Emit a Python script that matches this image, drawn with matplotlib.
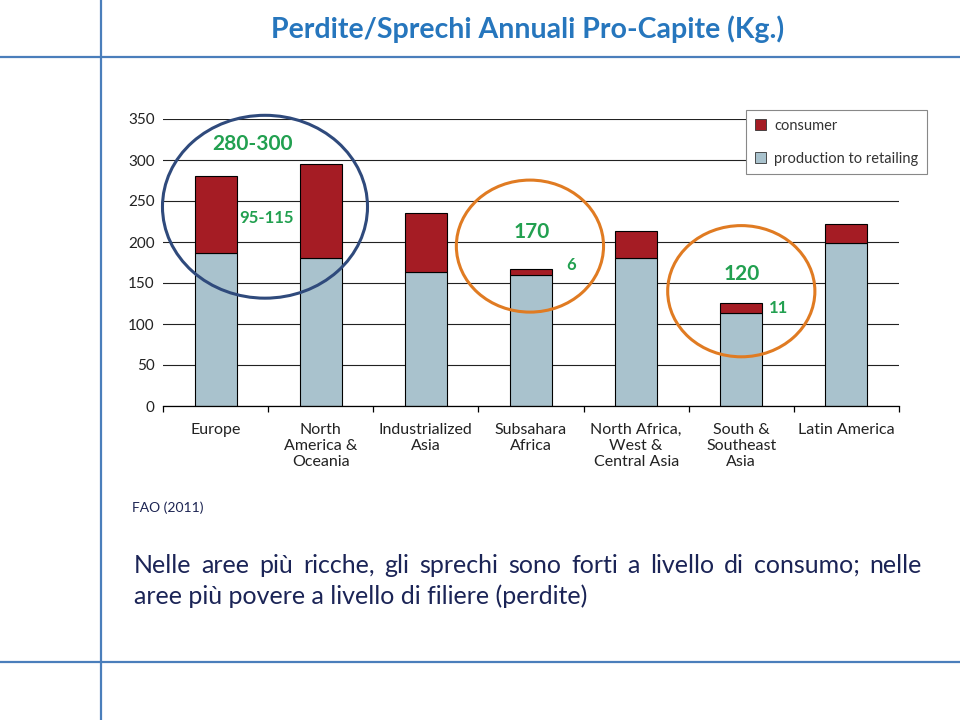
import matplotlib
matplotlib.use('Agg')
import matplotlib.pyplot as plt
from matplotlib.patches import Ellipse, Patch
from matplotlib.lines import Line2D
import numpy as np

plt.rcParams['font.family'] = ['Lato', 'DejaVu Sans']

# data (kg per capita per year)
categories = ['Europe', 'North\nAmerica &\nOceania', 'Industrialized\nAsia', 'Subsahara\nAfrica',
              'North Africa,\nWest &\nCentral Asia', 'South &\nSoutheast\nAsia', 'Latin America']
production = [186, 180, 163, 160, 181, 114, 199]
consumer = [95, 115, 72, 7, 33, 12, 23]
yticks = [0, 50, 100, 150, 200, 250, 300, 350]

# green callouts: (text, x, y, size)
callouts = [('280-300', 0.35, 319, 15), ('95-115', 0.48, 229, 12),
            ('170', 3.01, 212, 15), ('6', 3.38, 172, 12),
            ('120', 5.0, 161, 15), ('11', 5.35, 120, 12)]
# circles: (x, y, width, height, color)
circles = [(0.47, 243, 1.95, 223, '#2f4a7c'),
           (2.99, 195, 1.40, 161, '#e07b22'),
           (5.0, 140, 1.40, 160, '#e07b22')]

c_cons = '#a51c24'
c_prod = '#a9c2cd'

fig = plt.figure(figsize=(9.6, 7.2), dpi=100)
fig.patch.set_facecolor('white')

# slide frame lines
line_col = '#4a7ebb'
fig.add_artist(Line2D([101 / 960, 101 / 960], [0, 1], color=line_col, lw=1.6))
fig.add_artist(Line2D([0, 1], [1 - 57 / 720, 1 - 57 / 720], color=line_col, lw=1.6))
fig.add_artist(Line2D([0, 1], [1 - 662 / 720, 1 - 662 / 720], color=line_col, lw=1.6))

fig.text(528 / 960, 1 - 38 / 720, 'Perdite/Sprechi Annuali Pro-Capite (Kg.)', ha='center',
         va='baseline', fontsize=20.5, fontweight='bold', color='#2676bd')

ax = fig.add_axes([163 / 960, 1 - 406 / 720, 736 / 960, 287 / 720])
x = np.arange(len(categories))
ax.bar(x, production, width=0.4, color=c_prod, edgecolor='black', linewidth=0.8, zorder=2)
ax.bar(x, consumer, width=0.4, bottom=production, color=c_cons, edgecolor='black',
       linewidth=0.8, zorder=2)

ax.set_xlim(-0.5, len(categories) - 0.5)
ax.set_ylim(0, 350)
ax.set_yticks(yticks)
ax.yaxis.grid(True, color='#222222', linewidth=0.8)
ax.set_axisbelow(True)
for s in ['top', 'right', 'left']:
    ax.spines[s].set_visible(False)
ax.spines['bottom'].set_linewidth(0.9)

ax.set_xticks(x)
ax.set_xticklabels(categories, fontsize=11.5, color='#222222', linespacing=1.2)
ax.set_xticks(np.arange(-0.5, len(categories)), minor=True)
ax.tick_params(axis='x', which='major', length=0, pad=12)
ax.tick_params(axis='x', which='minor', length=4, width=0.9, direction='out')
ax.tick_params(axis='y', length=0, pad=6, labelsize=11, labelcolor='#222222')

for xc, yc, w, h, col in circles:
    ax.add_patch(Ellipse((xc, yc), w, h, fill=False, edgecolor=col, linewidth=2.2,
                         clip_on=False, zorder=4))
for txt, tx, ty, fs in callouts:
    ax.text(tx, ty, txt, ha='center', va='center', fontsize=fs, fontweight='bold',
            color='#22a050', zorder=5)

handles = [Patch(facecolor=c_cons, edgecolor='#333333', linewidth=0.6),
           Patch(facecolor=c_prod, edgecolor='#333333', linewidth=0.6)]
leg = fig.legend(handles, ['consumer', 'production to retailing'], loc='upper right',
                 bbox_to_anchor=(927 / 960, 1 - 110 / 720), fontsize=10.5, frameon=True,
                 fancybox=False, edgecolor='#888888', framealpha=1, handlelength=0.75,
                 handleheight=0.75, handletextpad=0.55, labelspacing=1.3, borderpad=0.6,
                 borderaxespad=0)
leg.get_frame().set_linewidth(0.8)
for t in leg.get_texts():
    t.set_color('#333333')

fig.text(132 / 960, 1 - 512 / 720, 'FAO (2011)', fontsize=10, color='#1c2452', va='baseline')

# body text, first line justified between x=134 and x=922 px
body_col = '#1b2456'
line1 = 'Nelle aree più ricche, gli sprechi sono forti a livello di consumo; nelle'
words = line1.split(' ')
renderer = fig.canvas.get_renderer()
word_texts = [fig.text(0, 1 - 573 / 720, w, fontsize=18, color=body_col, va='baseline')
              for w in words]
widths = [t.get_window_extent(renderer).width for t in word_texts]
gap = (922 - 134 - sum(widths)) / (len(words) - 1)
xpos = 134
for t, w in zip(word_texts, widths):
    t.set_x(xpos / 960)
    xpos += w + gap
fig.text(134 / 960, 1 - 604 / 720, 'aree più povere a livello di filiere (perdite)',
         fontsize=18, color=body_col, va='baseline')

fig.savefig('out.png', dpi=100)
